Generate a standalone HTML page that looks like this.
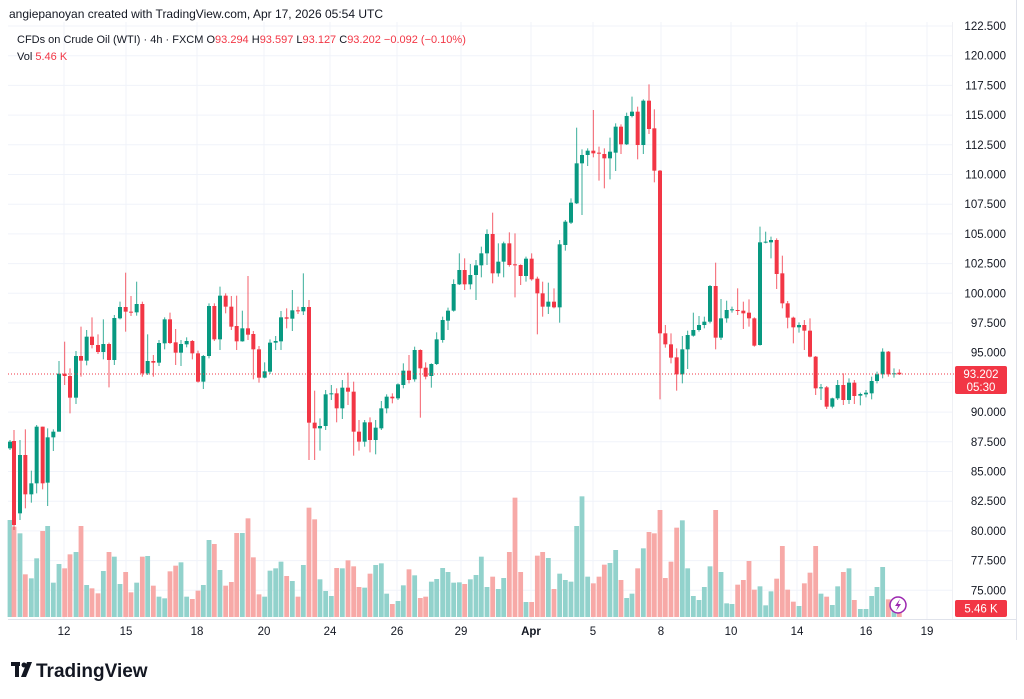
<!DOCTYPE html>
<html><head><meta charset="utf-8">
<style>
html,body{margin:0;padding:0;background:#fff;width:1024px;height:699px;overflow:hidden;font-family:"Liberation Sans",sans-serif;}
svg{position:absolute;left:0;top:0}
</style></head>
<body>
<svg id="s" width="1024" height="699" xmlns="http://www.w3.org/2000/svg" font-family="Liberation Sans, sans-serif"></svg>
<script>
var S=document.getElementById('s');var h='';
function Y(p){return 26+(122.5-p)*11.88;}
for(var p=75;p<=122.5;p+=2.5){var y=Y(p);h+='<line x1="8" x2="952" y1="'+y+'" y2="'+y+'" stroke="#f0f3fa" stroke-width="1"/>';}
var vx=[64,126,197,264,330,397,461,531,593,661,731,797,866,927];
vx.forEach(function(x){h+='<line x1="'+x+'" x2="'+x+'" y1="22" y2="619" stroke="#f0f3fa"/>';});
var A=[[30,565,545,540,570],[42,543,795,510,810],[60,760,585,540,780],[76,585,703,508,745],[94,703,670,632,728],[110,670,500,495,700],[128,500,670,500,688],[143,668,532,505,738],[160,532,515,508,573],[177,515,341,303,515],[194,341,348,245,375],[210,348,413,325,460],[228,413,288,273,432],[243,288,302,200,350],[260,302,230,210,316],[276,230,255,172,265],[294,255,276,223,282],[310,276,252,178,298],[327,252,300,248,382],[343,300,174,165,315],[360,175,141,125,178],[377,141,155,38,215],[393,155,157,108,168],[410,157,132,65,167],[427,132,340,125,350],[443,340,303,223,345],[460,303,308,285,350],[477,308,249,240,318],[494,250,178,172,268],[510,178,249,158,252],[527,247,278,207,315],[543,278,252,240,318],[560,253,243,232,262],[577,243,280,240,298],[594,280,365,272,368],[610,365,288,285,387],[627,288,138,130,295],[643,138,238,130,243],[660,238,107,80,270],[677,107,140,100,160],[694,140,200,108,210],[710,198,244,107,270],[727,244,205,152,245],[744,205,224,48,240],[760,222,268,213,358],[777,268,353,258,368],[794,353,334,307,355],[810,335,248,238,342],[827,248,243,228,270],[843,244,172,153,270],[860,172,176,145,205],[877,176,151,90,213],[894,151,154,140,162],[910,154,141,40,165]];
var B=[[27,321,668,300,780],[44,668,685,572,780],[60,685,678,655,752],[77,678,583,570,690],[94,583,580,555,600],[110,580,625,565,667],[127,625,563,540,657],[144,563,575,518,615],[161,575,695,545,767],[177,695,725,660,752],[194,725,667,660,740],[210,667,720,652,757],[227,720,683,660,763],[244,685,625,603,690],[260,625,590,583,640],[277,590,595,580,610],[294,595,553,550,600],[310,555,512,490,565],[327,512,540,465,550],[344,538,450,440,545],[361,450,505,448,653],[377,503,530,487,538],[394,528,492,490,563],[410,492,418,397,495],[428,420,360,350,428],[444,362,332,323,390],[461,332,252,238,335],[478,253,210,160,255],[494,210,253,175,270],[511,253,225,192,268],[528,225,196,180,300],[544,196,160,140,232],[561,160,102,88,195],[578,102,220,38,250],[595,220,185,130,230],[611,185,130,125,232],[628,130,195,97,200],[645,193,195,100,292],[662,195,228,193,255],[678,228,176,170,245],[695,176,238,160,242],[712,236,280,230,403],[728,280,320,245,350],[745,320,305,248,342],[762,305,322,265,325],[779,322,133,120,368]];
var C=[[16,495,425,420,512],[33,428,368,355,432],[50,370,250,143,372],[66,250,225,208,405],[83,225,212,205,258],[100,212,220,90,232],[117,218,220,200,302],[133,222,235,205,325],[150,235,215,173,298],[167,218,140,130,273],[183,140,193,133,222],[200,193,108,98,195],[216,108,95,50,112],[233,95,195,80,238],[250,195,62,58,222],[267,62,147,13,162],[283,145,272,88,307],[300,272,760,270,958],[316,760,793,735,803],[333,793,833,760,850],[350,832,883,805,932],[367,883,808,768,910],[383,808,765,752,867],[400,767,750,698,770],[417,750,735,708,755],[433,735,725,710,745],[450,725,618,615,730],[467,618,773,548,808],[483,773,715,657,780],[500,715,690,662,728],[516,690,688,680,698],[533,690,692,625,705],[550,692,700,665,747],[567,698,715,658,740],[583,715,797,712,800],[600,795,487,440,797],[617,487,485,455,490],[633,487,480,470,535],[650,480,582,475,627],[667,580,670,527,685],[683,670,713,663,745],[700,713,742,710,790],[717,742,735,727,758],[733,735,752,720,810],[750,752,830,715,832],[767,830,925,828,945],[783,925,922,912,960],[800,922,980,918,987],[817,980,955,953,985],[833,955,915,900,960],[850,915,960,880,975],[867,960,908,895,972],[883,908,948,900,972]];
var D=[[301,197,192,188,226],[318,193,188,180,202],[335,190,153,140,208],[351,153,133,125,160],[368,133,65,55,145],[385,65,133,63,140],[402,133,130,115,143],[418,128,133,118,135]];
var cs=[];
function add(L,x0,y0){L.forEach(function(c){cs.push({x:x0+c[0]/3,o:y0+c[1]/3,c:y0+c[2]/3,h:y0+c[3]/3,l:y0+c[4]/3});});}
add(A,0,260);add(B,300,200);add(C,560,80);add(D,760,330);
var v5=[90,110,130,253,265,205,123,108,278,222,235,193,186,108,285,295,310,243,186,200,282,246,307,278,200,198,287,320,325,244,227,217,320,327,302,285,150,162,240,287,276,129,129,85,202,313,320,242,235,215,258,273,320,225,53,88,268,303,318,234,235,211,229,291,293,251,225,220,311,342,333,286,238,256,324,320,275,267,234,246,278];
var v6=[277,282,268,255,200,291,260,297,264,186,23,246,336,336,197,186,204,297,251,270,275,108,19,260,280,260,224,219,180,270,324,311,235,175,126,130,60,264,215,113,91,235,318,330,291,229,60,246,340,342,284,270,213,299,289,346,304,266,168,299,335,348,280,248,168,311,320,345,289,246,235,330,357,357,318,291,231,328,345,355,360];
var vol=v5.concat(v6);
cs.forEach(function(c,i){
 var up=c.c<=c.o;var vt=490+(vol[i]!==undefined?vol[i]:340)/3;
 h+='<rect x="'+(c.x-2.4)+'" y="'+vt+'" width="4.8" height="'+(617-vt)+'" fill="'+(up?'#92d2cc':'#f7a9a7')+'"/>';
});
cs.forEach(function(c){
 var up=c.c<=c.o;var col=up?'#089981':'#f23645';
 var t=Math.min(c.o,c.c),b=Math.max(c.o,c.c);if(b-t<1)b=t+1;
 h+='<line x1="'+c.x+'" x2="'+c.x+'" y1="'+Math.min(c.h,t)+'" y2="'+Math.max(c.l,b)+'" stroke="'+col+'" stroke-width="1" opacity="0.8"/>';
 h+='<rect x="'+(c.x-2)+'" y="'+t+'" width="4" height="'+(b-t)+'" fill="'+col+'"/>';
});
var py=Y(93.202);
h+='<line x1="8" x2="955" y1="'+py+'" y2="'+py+'" stroke="#f23645" stroke-width="1" stroke-dasharray="1,2"/>';
h+='<line x1="8" x2="1016" y1="619.5" y2="619.5" stroke="#e0e3eb"/>';
h+='<line x1="952.5" x2="952.5" y1="22" y2="619" stroke="#e0e3eb" opacity="0.5"/>';
h+='<line x1="1016.5" x2="1016.5" y1="0" y2="640" stroke="#e0e3eb"/>';
for(var p=75;p<=122.5;p+=2.5){if(Math.abs(p-92.5)<0.1)continue;h+='<text x="1006" y="'+(Y(p)+4)+'" font-size="11.5" fill="#131722" text-anchor="end">'+p.toFixed(3)+'</text>';}
h+='<rect x="955" y="366" width="52" height="28" rx="2" fill="#f23645"/>';
h+='<text x="981" y="378" font-size="11.5" fill="#fff" text-anchor="middle">93.202</text><text x="981" y="391" font-size="11.5" fill="#fff" text-anchor="middle">05:30</text>';
h+='<rect x="955" y="600" width="52" height="17" rx="2" fill="#f23645"/><text x="981" y="612.5" font-size="11.5" fill="#fff" text-anchor="middle">5.46 K</text>';
var tl=[[64,'12'],[126,'15'],[197,'18'],[264,'20'],[330,'24'],[397,'26'],[461,'29'],[531,'Apr'],[593,'5'],[661,'8'],[731,'10'],[797,'14'],[866,'16'],[927,'19']];
tl.forEach(function(t){h+='<text x="'+t[0]+'" y="635" font-size="11.5" fill="#131722" text-anchor="middle"'+(t[1]=='Apr'?' font-weight="bold"':'')+'>'+t[1]+'</text>';});
h+='<circle cx="898" cy="605" r="8" fill="#fff" stroke="#9c27b0" stroke-width="1.5"/><path d="M900 599 L895 606 L898 606 L896 611 L901 604 L898 604 Z" fill="#9c27b0"/>';
h+='<text x="9" y="18" font-size="12" fill="#131722">angiepanoyan created with TradingView.com, Apr 17, 2026 05:54 UTC</text>';
h+='<text x="17" y="43" font-size="11" fill="#131722">CFDs on Crude Oil (WTI) · 4h · FXCM  <tspan>O</tspan><tspan fill="#f23645">93.294</tspan>  H<tspan fill="#f23645">93.597</tspan>  L<tspan fill="#f23645">93.127</tspan>  C<tspan fill="#f23645">93.202</tspan>  <tspan fill="#f23645">−0.092 (−0.10%)</tspan></text>';
h+='<text x="17" y="60" font-size="11" fill="#131722">Vol  <tspan fill="#f23645">5.46 K</tspan></text>';
h+='<g fill="#131722"><rect x="11" y="662" width="9" height="4"/><rect x="15" y="662" width="4" height="15"/><circle cx="24" cy="665" r="2.5"/><path d="M27 662 L32 662 L26 677 L21 677 Z"/></g>';
h+='<text x="36" y="677" font-size="19" font-weight="bold" fill="#131722">TradingView</text>';
S.innerHTML=h;
</script>
</body></html>
